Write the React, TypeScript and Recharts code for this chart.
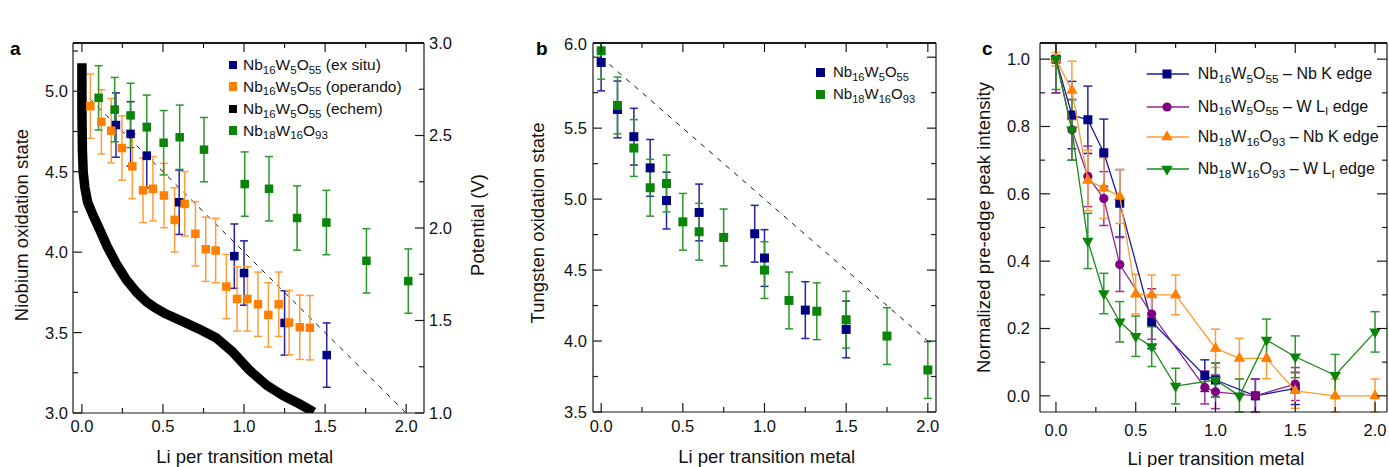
import React from 'react';
import { ComposedChart, Scatter, Line, XAxis, YAxis, ErrorBar, Legend, ReferenceLine } from 'recharts';

const FONT = '"Liberation Sans", Arial, Helvetica, sans-serif';
const FRAME = '#1a1a1a';

// ---------------- shared tick values ----------------
const liTicks = [0, 0.25, 0.5, 0.75, 1, 1.25, 1.5, 1.75, 2];
const liMajor = [0, 0.5, 1, 1.5, 2];

// ---------------- panel a ----------------
const nbTicks = [3, 3.25, 3.5, 3.75, 4, 4.25, 4.5, 4.75, 5, 5.25];
const nbMajor = [3, 3.5, 4, 4.5, 5];
const potTicks = [1, 1.25, 1.5, 1.75, 2, 2.25, 2.5, 2.75, 3];
const potMajor = [1, 1.5, 2, 2.5, 3];

const aExsituLi = [0.21, 0.3, 0.4, 0.6, 0.94, 1.0, 1.25, 1.51];
const aExsituNb = [4.79, 4.735, 4.6, 4.31, 3.975, 3.87, 3.56, 3.36];
const aExsituErr = [0.2, 0.2, 0.2, 0.2, 0.2, 0.2, 0.2, 0.2];

const aOperandoLi = [0.052, 0.12, 0.181, 0.247, 0.311, 0.377, 0.438, 0.506, 0.572, 0.634, 0.7, 0.764, 0.825, 0.891, 0.957, 1.021, 1.086, 1.15, 1.214, 1.278, 1.344, 1.406];
const aOperandoNb = [4.907, 4.81, 4.755, 4.647, 4.533, 4.384, 4.394, 4.352, 4.2, 4.3, 4.114, 4.018, 4.01, 3.786, 3.709, 3.709, 3.676, 3.61, 3.676, 3.562, 3.533, 3.53];
const aOperandoErr = [0.2, 0.2, 0.2, 0.2, 0.2, 0.2, 0.2, 0.2, 0.2, 0.2, 0.2, 0.2, 0.2, 0.2, 0.2, 0.2, 0.2, 0.2, 0.2, 0.2, 0.2, 0.2];

const aNb18Li = [0.103, 0.202, 0.3, 0.4, 0.504, 0.603, 0.753, 1.004, 1.154, 1.327, 1.508, 1.755, 2.013];
const aNb18Nb = [4.959, 4.886, 4.85, 4.776, 4.68, 4.714, 4.637, 4.423, 4.394, 4.212, 4.184, 3.946, 3.82];
const aNb18Err = [0.2, 0.2, 0.2, 0.2, 0.2, 0.2, 0.2, 0.2, 0.2, 0.2, 0.2, 0.2, 0.2];

const echemLi = [0, 0, 0.003, 0.008, 0.018, 0.035, 0.068, 0.11, 0.156, 0.21, 0.274, 0.34, 0.4, 0.45, 0.52, 0.62, 0.72, 0.83, 0.93, 1.035, 1.14, 1.24, 1.34, 1.43];
const echemV = [2.89, 2.64, 2.42, 2.3, 2.22, 2.14, 2.07, 1.99, 1.9, 1.81, 1.72, 1.65, 1.6, 1.57, 1.535, 1.495, 1.455, 1.405, 1.33, 1.23, 1.15, 1.095, 1.05, 1.005];

const aIdealLi = [0, 2];
const aIdealNb = [5, 3];

// ---------------- panel b ----------------
const wTicks = [3.5, 3.75, 4, 4.25, 4.5, 4.75, 5, 5.25, 5.5, 5.75, 6];
const wMajor = [3.5, 4, 4.5, 5, 5.5, 6];

const bNb16Li = [0, 0.1, 0.2, 0.3, 0.4, 0.6, 0.94, 1.0, 1.25, 1.5];
const bNb16W = [5.963, 5.632, 5.44, 5.22, 4.99, 4.906, 4.756, 4.585, 4.218, 4.082];
const bNb16Err = [0.2, 0.2, 0.2, 0.2, 0.2, 0.2, 0.2, 0.2, 0.2, 0.2];

const bNb18Li = [0, 0.1, 0.2, 0.3, 0.4, 0.5, 0.6, 0.75, 1.0, 1.15, 1.32, 1.5, 1.75, 2.0];
const bNb18W = [6.045, 5.66, 5.36, 5.08, 5.11, 4.84, 4.77, 4.73, 4.5, 4.286, 4.21, 4.15, 4.035, 3.796];
const bNb18Err = [0.2, 0.2, 0.2, 0.2, 0.2, 0.2, 0.2, 0.2, 0.2, 0.2, 0.2, 0.2, 0.2, 0.2];

const bIdealLi = [0, 2];
const bIdealW = [6, 4];

// ---------------- panel c ----------------
const iTicks = [0, 0.1, 0.2, 0.3, 0.4, 0.5, 0.6, 0.7, 0.8, 0.9, 1.0];
const iMajor = [0, 0.2, 0.4, 0.6, 0.8, 1.0];

const c16NbLi = [0, 0.1, 0.2, 0.3, 0.4, 0.6, 0.933, 1.0, 1.25, 1.5];
const c16NbI = [1.0, 0.834, 0.82, 0.722, 0.572, 0.22, 0.06, 0.047, 0.0, 0.022];
const c16NbErr = [0.1, 0.1, 0.1, 0.1, 0.1, 0.08, 0.047, 0.05, 0.05, 0.048];

const c16WLi = [0, 0.1, 0.2, 0.3, 0.4, 0.6, 0.933, 1.0, 1.25, 1.5];
const c16WI = [1.0, 0.79, 0.652, 0.586, 0.39, 0.243, 0.025, 0.012, 0.0, 0.035];
const c16WErr = [0.1, 0.09, 0.09, 0.08, 0.08, 0.075, 0.049, 0.05, 0.05, 0.049];

const c18NbLi = [0, 0.1, 0.2, 0.3, 0.4, 0.5, 0.6, 0.75, 1.0, 1.15, 1.32, 1.5, 1.75, 2.0];
const c18NbI = [1.0, 0.907, 0.64, 0.617, 0.592, 0.302, 0.3, 0.3, 0.141, 0.111, 0.111, 0.015, 0.0, 0.0];
const c18NbErr = [0.02, 0.087, 0.09, 0.09, 0.08, 0.059, 0.059, 0.059, 0.057, 0.06, 0.06, 0.052, 0.05, 0.05];

const c18WLi = [0, 0.1, 0.2, 0.3, 0.4, 0.5, 0.6, 0.75, 1.0, 1.15, 1.32, 1.5, 1.75, 2.0];
const c18WI = [1.0, 0.79, 0.46, 0.304, 0.22, 0.177, 0.146, 0.029, 0.047, 0.0, 0.166, 0.116, 0.061, 0.19];
const c18WErr = [0.09, 0.09, 0.082, 0.06, 0.06, 0.06, 0.059, 0.053, 0.05, 0.05, 0.062, 0.062, 0.062, 0.06];

// ---------------- labels ----------------
const panelLetters = ['a', 'b', 'c'];
const xTitle = 'Li per transition metal';
const yTitleA = 'Niobium oxidation state';
const yTitleA2 = 'Potential (V)';
const yTitleB = 'Tungsten oxidation state';
const yTitleC = 'Normalized pre-edge peak intensity';

// formula parts: [Nb sub, W sub, O sub]
const legendA = [
  { f: ['16', '5', '55'], s: ' (ex situ)', color: '#000080' },
  { f: ['16', '5', '55'], s: ' (operando)', color: '#ff8000' },
  { f: ['16', '5', '55'], s: ' (echem)', color: '#000000' },
  { f: ['18', '16', '93'], s: '', color: '#0a850a' },
];
const legendB = [
  { f: ['16', '5', '55'], color: '#000080' },
  { f: ['18', '16', '93'], color: '#0a850a' },
];
const legendC = [
  { f: ['16', '5', '55'], edge: 'Nb K', sub: '', color: '#000080', line: '#1b1ba0', shape: 'square' },
  { f: ['16', '5', '55'], edge: 'W L', sub: 'I', color: '#800080', line: '#8c2a8c', shape: 'circle' },
  { f: ['18', '16', '93'], edge: 'Nb K', sub: '', color: '#ff8000', line: '#ff9a33', shape: 'up' },
  { f: ['18', '16', '93'], edge: 'W L', sub: 'I', color: '#0a850a', line: '#178a17', shape: 'down' },
];

// ---------------- helpers ----------------
// error bars are cut at the plot frame, as in the original figure
const pts = (xs: number[], ys: number[], es: number[], dom: number[]) =>
  xs.map((x, i) => ({
    x,
    y: ys[i],
    e: [Math.min(es[i], ys[i] - dom[0]), Math.min(es[i], dom[1] - ys[i])],
  }));
const linePts = (xs: number[], ys: number[], key: string) => xs.map((x, i) => ({ x, [key]: ys[i] }));

type Side = 'left' | 'right' | 'bottom';
interface TickCfg {
  side: Side;
  major: number[];
  label?: boolean;
  gap?: number;
  majorLen?: number;
  minorLen?: number;
  fs?: number;
  shift?: (v: number) => number;
  plotH?: number; // bottom axis also draws the mirrored tick on the top frame
}
function makeTick(c: TickCfg) {
  return (props: any) => {
    const { x, y, payload } = props;
    const v = Number(payload.value);
    const isMajor = c.major.some((m) => Math.abs(m - v) < 1e-9);
    const len = isMajor ? c.majorLen ?? 9 : c.minorLen ?? 5;
    const fs = c.fs ?? 16.5;
    const gap = c.gap ?? 5;
    const txt = c.label && isMajor ? v.toFixed(1) : null;
    const sh = c.shift ? c.shift(v) : 0;
    const tp = { fontSize: fs, fontFamily: FONT, fill: '#111' } as any;
    const ls = { stroke: FRAME, strokeWidth: 1.2 };
    let line: any = null;
    let line2: any = null;
    let text: any = null;
    if (c.side === 'left') {
      line = <line x1={x} y1={y} x2={x + len} y2={y} {...ls} />;
      if (txt) text = <text x={x - gap} y={y + 0.36 * fs + sh} textAnchor="end" {...tp}>{txt}</text>;
    } else if (c.side === 'right') {
      line = <line x1={x} y1={y} x2={x - len} y2={y} {...ls} />;
      if (txt) text = <text x={x + gap} y={y + 0.36 * fs + sh} textAnchor="start" {...tp}>{txt}</text>;
    } else {
      line = <line x1={x} y1={y} x2={x} y2={y - len} {...ls} />;
      if (c.plotH) {
        const yt = y - c.plotH;
        line2 = <line x1={x} y1={yt} x2={x} y2={yt + len} {...ls} />;
      }
      if (txt) text = <text x={x} y={y + gap} textAnchor="middle" {...tp}>{txt}</text>;
    }
    return (
      <g>
        {line}
        {line2}
        {text}
      </g>
    );
  };
}

const squareShape = (fill: string, s: number) => (p: any) =>
  <rect x={p.cx - s / 2} y={p.cy - s / 2} width={s} height={s} fill={fill} />;
const circleShape = (fill: string, r: number) => (p: any) => <circle cx={p.cx} cy={p.cy} r={r} fill={fill} />;
const triShape = (fill: string, s: number, up: boolean) => (p: any) => {
  const h = s * 0.866;
  const d = up ? 1 : -1;
  const pp = `${p.cx},${p.cy - (d * h * 2) / 3} ${p.cx - s / 2},${p.cy + (d * h) / 3} ${p.cx + s / 2},${p.cy + (d * h) / 3}`;
  return <polygon points={pp} fill={fill} />;
};

// Title uses its own prop names so that Recharts' injected x/y don't override them
const Title = (props: any) => {
  const { tx, ty, text, rot } = props;
  return (
    <text
      x={tx}
      y={ty}
      textAnchor="middle"
      transform={rot ? `rotate(-90, ${tx}, ${ty})` : undefined}
      fontSize={18.5}
      fontFamily={FONT}
      fill="#111"
    >
      {text}
    </text>
  );
};

const Sub = ({ children }: { children: any }) => (
  <span style={{ fontSize: '0.74em', position: 'relative', top: '0.32em', lineHeight: 0 }}>{children}</span>
);
const Formula = ({ f }: { f: string[] }) => (
  <>
    Nb<Sub>{f[0]}</Sub>W<Sub>{f[1]}</Sub>O<Sub>{f[2]}</Sub>
  </>
);

const axisLineStyle = { stroke: FRAME, strokeWidth: 1.2 };

// ---------------- legends ----------------
const LegendAContent = () => (
  <div style={{ position: 'relative', width: 260, height: 95, fontFamily: FONT, fontSize: 15.5, color: '#111' }}>
    {legendA.map((r, i) => {
      const top = [15, 36.7, 59, 80.7][i] - 11;
      return (
        <div key={i} style={{ position: 'absolute', left: 0, top, height: 22, lineHeight: '22px', whiteSpace: 'nowrap' }}>
          <span style={{ position: 'absolute', left: 3.75, top: 6.75, width: 8.5, height: 8.5, background: r.color }} />
          <span style={{ position: 'absolute', left: 18, top: 0 }}>
            <Formula f={r.f} />
            {r.s}
          </span>
        </div>
      );
    })}
  </div>
);

const LegendBContent = () => (
  <div style={{ position: 'relative', width: 130, height: 50, fontFamily: FONT, fontSize: 15, color: '#111' }}>
    {legendB.map((r, i) => {
      const top = [11.3, 33.3][i] - 11;
      return (
        <div key={i} style={{ position: 'absolute', left: 0, top, height: 22, lineHeight: '22px', whiteSpace: 'nowrap' }}>
          <span style={{ position: 'absolute', left: 4.2, top: 6.5, width: 9, height: 9, background: r.color }} />
          <span style={{ position: 'absolute', left: 21, top: 0 }}>
            <Formula f={r.f} />
          </span>
        </div>
      );
    })}
  </div>
);

const markerSvg = (shape: string, color: string) => {
  if (shape === 'square') return <rect x={-4.5} y={-4.5} width={9} height={9} fill={color} />;
  if (shape === 'circle') return <circle cx={0} cy={0} r={4.6} fill={color} />;
  const s = 11.5;
  const h = s * 0.866;
  const d = shape === 'up' ? 1 : -1;
  return <polygon points={`0,${(-d * h * 2) / 3} ${-s / 2},${(d * h) / 3} ${s / 2},${(d * h) / 3}`} fill={color} />;
};

const LegendCContent = () => (
  <div style={{ position: 'relative', width: 245, height: 130, fontFamily: FONT, fontSize: 16, color: '#111' }}>
    {legendC.map((r, i) => {
      const top = [16.3, 48.7, 79.3, 111.3][i] - 12;
      return (
        <div key={i} style={{ position: 'absolute', left: 0, top, height: 24, lineHeight: '24px', whiteSpace: 'nowrap' }}>
          <svg style={{ position: 'absolute', left: 0, top: 0 }} width={56} height={24}>
            <line x1={6.7} x2={49} y1={12} y2={12} stroke={r.line} strokeWidth={1.3} />
            <g transform="translate(27,12)">{markerSvg(r.shape, r.color)}</g>
          </svg>
          <span style={{ position: 'absolute', left: 57.7, top: 0 }}>
            <Formula f={r.f} /> – {r.edge}
            {r.sub ? <Sub>{r.sub}</Sub> : null} edge
          </span>
        </div>
      );
    })}
  </div>
);

// ---------------- panel a ----------------
const aLiDomain = [-0.055, 2.11];
const aNbDomain = [3.0, 5.3];
const PanelA = () => (
  <ComposedChart width={500} height={467} margin={{ top: 43, right: 0, bottom: 24, left: 0 }}>
    <XAxis
      xAxisId="b"
      dataKey="x"
      type="number"
      domain={aLiDomain}
      allowDataOverflow
      ticks={liTicks}
      interval={0}
      tickSize={0}
      tickMargin={0}
      height={30}
      axisLine={axisLineStyle}
      tickLine={false}
      tick={makeTick({ side: 'bottom', major: liMajor, label: true, gap: 18.7, plotH: 370 })}
      label={<Title tx={244.7} ty={462.5} text={xTitle} />}
    />
    <YAxis
      yAxisId="nb"
      type="number"
      domain={aNbDomain}
      allowDataOverflow
      ticks={nbTicks}
      interval={0}
      tickSize={0}
      tickMargin={0}
      width={73}
      axisLine={axisLineStyle}
      tickLine={false}
      tick={makeTick({ side: 'left', major: nbMajor, label: true, gap: 5 })}
      label={<Title tx={28} ty={225} text={yTitleA} rot />}
    />
    <YAxis
      yAxisId="pot"
      orientation="right"
      type="number"
      domain={[1.0, 3.0]}
      allowDataOverflow
      ticks={potTicks}
      interval={0}
      tickSize={0}
      tickMargin={0}
      width={76}
      axisLine={axisLineStyle}
      tickLine={false}
      tick={makeTick({ side: 'right', major: potMajor, label: true, gap: 5 })}
      label={<Title tx={484} ty={225} text={yTitleA2} rot />}
    />
    <ReferenceLine
      xAxisId="b"
      yAxisId="nb"
      y={aNbDomain[1]}
      ifOverflow="visible"
      stroke={FRAME}
      strokeWidth={1.2}
    />
    <Line
      xAxisId="b"
      yAxisId="nb"
      data={linePts(aIdealLi, aIdealNb, 'd')}
      dataKey="d"
      type="linear"
      stroke="#111"
      strokeWidth={1}
      strokeDasharray="5 6"
      dot={false}
      isAnimationActive={false}
    />
    <Scatter
      xAxisId="b"
      yAxisId="nb"
      data={pts(aExsituLi, aExsituNb, aExsituErr, aNbDomain)}
      dataKey="y"
      shape={squareShape('#000080', 8.5)}
      isAnimationActive={false}
    >
      <ErrorBar dataKey="e" direction="y" width={4} stroke="#2424a0" strokeWidth={1.5} isAnimationActive={false} />
    </Scatter>
    <Scatter
      xAxisId="b"
      yAxisId="nb"
      data={pts(aOperandoLi, aOperandoNb, aOperandoErr, aNbDomain)}
      dataKey="y"
      shape={squareShape('#ff8000', 8.5)}
      isAnimationActive={false}
    >
      <ErrorBar dataKey="e" direction="y" width={4} stroke="#ff9d3c" strokeWidth={1.5} isAnimationActive={false} />
    </Scatter>
    <Scatter
      xAxisId="b"
      yAxisId="nb"
      data={pts(aNb18Li, aNb18Nb, aNb18Err, aNbDomain)}
      dataKey="y"
      shape={squareShape('#0a850a', 8.5)}
      isAnimationActive={false}
    >
      <ErrorBar dataKey="e" direction="y" width={4} stroke="#2e962e" strokeWidth={1.5} isAnimationActive={false} />
    </Scatter>
    <Line
      xAxisId="b"
      yAxisId="pot"
      data={linePts(echemLi, echemV, 'v')}
      dataKey="v"
      type="linear"
      stroke="#000"
      strokeWidth={9.5}
      strokeLinejoin="round"
      dot={false}
      isAnimationActive={false}
    />
    <Legend
      layout="vertical"
      align="center"
      verticalAlign="middle"
      content={<LegendAContent />}
      wrapperStyle={{ left: 225, top: 50, width: 260, height: 95 }}
    />
  </ComposedChart>
);

// ---------------- panel b ----------------
const bLiDomain = [-0.05, 2.05];
const bWDomain = [3.5, 6.1];
const PanelB = () => (
  <ComposedChart width={430} height={467} margin={{ top: 43, right: 0, bottom: 25, left: 0 }}>
    <XAxis
      xAxisId="b"
      dataKey="x"
      type="number"
      domain={bLiDomain}
      allowDataOverflow
      ticks={liTicks}
      interval={0}
      tickSize={0}
      tickMargin={0}
      height={30}
      axisLine={axisLineStyle}
      tickLine={false}
      tick={makeTick({ side: 'bottom', major: liMajor, label: true, gap: 20, plotH: 369 })}
      label={<Title tx={246.7} ty={462.5} text={xTitle} />}
    />
    <YAxis
      yAxisId="w"
      type="number"
      domain={bWDomain}
      allowDataOverflow
      ticks={wTicks}
      interval={0}
      tickSize={0}
      tickMargin={0}
      width={73}
      axisLine={axisLineStyle}
      tickLine={false}
      tick={makeTick({ side: 'left', major: wMajor, label: true, gap: 6, shift: (v) => (v === 6 ? -13 : 0) })}
      label={<Title tx={23.5} ty={223} text={yTitleB} rot />}
    />
    <YAxis
      yAxisId="r"
      orientation="right"
      type="number"
      domain={bWDomain}
      allowDataOverflow
      ticks={wTicks}
      interval={0}
      tickSize={0}
      tickMargin={0}
      width={14}
      axisLine={axisLineStyle}
      tickLine={false}
      tick={makeTick({ side: 'right', major: wMajor })}
    />
    <ReferenceLine
      xAxisId="b"
      yAxisId="w"
      y={bWDomain[1]}
      ifOverflow="visible"
      stroke={FRAME}
      strokeWidth={1.2}
    />
    <Line
      xAxisId="b"
      yAxisId="w"
      data={linePts(bIdealLi, bIdealW, 'd')}
      dataKey="d"
      type="linear"
      stroke="#111"
      strokeWidth={1}
      strokeDasharray="5 6"
      dot={false}
      isAnimationActive={false}
    />
    <Scatter
      xAxisId="b"
      yAxisId="w"
      data={pts(bNb16Li, bNb16W, bNb16Err, bWDomain)}
      dataKey="y"
      shape={squareShape('#000080', 9)}
      isAnimationActive={false}
    >
      <ErrorBar dataKey="e" direction="y" width={4} stroke="#2424a0" strokeWidth={1.5} isAnimationActive={false} />
    </Scatter>
    <Scatter
      xAxisId="b"
      yAxisId="w"
      data={pts(bNb18Li, bNb18W, bNb18Err, bWDomain)}
      dataKey="y"
      shape={squareShape('#0a850a', 9)}
      isAnimationActive={false}
    >
      <ErrorBar dataKey="e" direction="y" width={4} stroke="#2e962e" strokeWidth={1.5} isAnimationActive={false} />
    </Scatter>
    <Legend
      layout="vertical"
      align="center"
      verticalAlign="middle"
      content={<LegendBContent />}
      wrapperStyle={{ left: 292, top: 61, width: 130, height: 50 }}
    />
  </ComposedChart>
);

// ---------------- panel c ----------------
const cLiDomain = [-0.1, 2.075];
const cIDomain = [-0.048, 1.048];
const cSeries = [
  { li: c16NbLi, v: c16NbI, e: c16NbErr, shape: squareShape('#000080', 9), line: '#1b1ba0', bar: '#2424a0' },
  { li: c16WLi, v: c16WI, e: c16WErr, shape: circleShape('#800080', 4.6), line: '#8c2a8c', bar: '#993399' },
  { li: c18NbLi, v: c18NbI, e: c18NbErr, shape: triShape('#ff8000', 11.5, true), line: '#ff9a33', bar: '#ff9d3c' },
  { li: c18WLi, v: c18WI, e: c18WErr, shape: triShape('#0a850a', 11.5, false), line: '#178a17', bar: '#2e962e' },
];

const PanelC = () => (
  <ComposedChart width={429} height={467} margin={{ top: 43, right: 0, bottom: 25, left: 0 }}>
    <XAxis
      xAxisId="b"
      dataKey="x"
      type="number"
      domain={cLiDomain}
      allowDataOverflow
      ticks={liTicks}
      interval={0}
      tickSize={0}
      tickMargin={0}
      height={30}
      axisLine={axisLineStyle}
      tickLine={false}
      tick={makeTick({ side: 'bottom', major: liMajor, label: true, gap: 23.7, majorLen: 10, plotH: 369 })}
      label={<Title tx={256} ty={465} text={xTitle} />}
    />
    <YAxis
      yAxisId="i"
      type="number"
      domain={cIDomain}
      allowDataOverflow
      ticks={iTicks}
      interval={0}
      tickSize={0}
      tickMargin={0}
      width={80}
      axisLine={axisLineStyle}
      tickLine={false}
      tick={makeTick({ side: 'left', major: iMajor, label: true, gap: 10, majorLen: 10 })}
      label={<Title tx={30} ty={227.5} text={yTitleC} rot />}
    />
    <YAxis
      yAxisId="r"
      orientation="right"
      type="number"
      domain={cIDomain}
      allowDataOverflow
      ticks={iTicks}
      interval={0}
      tickSize={0}
      tickMargin={0}
      width={2}
      axisLine={axisLineStyle}
      tickLine={false}
      tick={makeTick({ side: 'right', major: iMajor, majorLen: 10 })}
    />
    <ReferenceLine
      xAxisId="b"
      yAxisId="i"
      y={cIDomain[1]}
      ifOverflow="visible"
      stroke={FRAME}
      strokeWidth={1.2}
    />
    {cSeries.map((s, k) => (
      <Scatter
        key={k}
        xAxisId="b"
        yAxisId="i"
        data={pts(s.li, s.v, s.e, cIDomain)}
        dataKey="y"
        line={{ stroke: s.line, strokeWidth: 1.3 }}
        lineType="joint"
        shape={s.shape}
        isAnimationActive={false}
      >
        <ErrorBar dataKey="e" direction="y" width={4.5} stroke={s.bar} strokeWidth={1.5} isAnimationActive={false} />
      </Scatter>
    ))}
    <Legend
      layout="vertical"
      align="center"
      verticalAlign="middle"
      content={<LegendCContent />}
      wrapperStyle={{ left: 180, top: 58, width: 245, height: 130 }}
    />
  </ComposedChart>
);

// top edges of the three plot frames (left, width), drawn over the charts
const frameTops = [
  [73, 351],
  [593, 343],
  [1040, 347],
];

export default function App() {
  return (
    <div
      style={{
        position: 'absolute',
        left: 0,
        top: 0,
        width: 1389,
        height: 467,
        overflow: 'hidden',
        background: '#fff',
        fontFamily: FONT,
      }}
    >
      <div style={{ position: 'absolute', left: 0, top: 0 }}>
        <PanelA />
      </div>
      <div style={{ position: 'absolute', left: 520, top: 0 }}>
        <PanelB />
      </div>
      <div style={{ position: 'absolute', left: 960, top: 0 }}>
        <PanelC />
      </div>
      {frameTops.map(([l, w], i) => (
        <div
          key={'f' + i}
          style={{ position: 'absolute', left: l, top: 42.4, width: w, height: 1.2, background: FRAME }}
        />
      ))}
      {panelLetters.map((l, i) => (
        <div
          key={l}
          style={{
            position: 'absolute',
            left: [10, 536, 982][i],
            top: 38,
            fontSize: 19,
            lineHeight: '22px',
            fontWeight: 'bold',
            fontFamily: FONT,
            color: '#000',
          }}
        >
          {l}
        </div>
      ))}
    </div>
  );
}
